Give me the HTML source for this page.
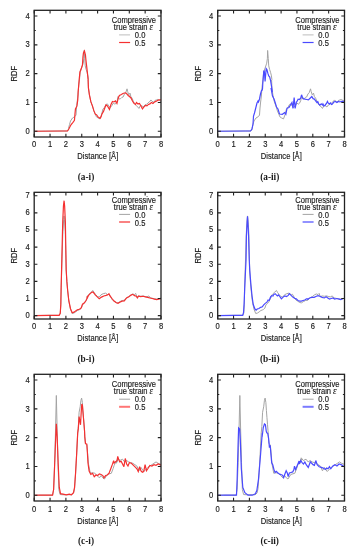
<!DOCTYPE html>
<html><head><meta charset="utf-8"><style>
html,body{margin:0;padding:0;background:#fff;width:351px;height:550px;overflow:hidden}
svg{display:block;will-change:transform}
</style></head><body>
<svg width="351" height="550" viewBox="0 0 351 550" font-family='"Liberation Sans", sans-serif' font-size="7.6" fill="#1a1a1a" stroke="#1a1a1a" stroke-width="0.14"><g><clipPath id="clip00"><rect x="34.2" y="10.3" width="126.8" height="126.7"/></clipPath><polyline clip-path="url(#clip00)" points="32.62,131.24 62,131.01 67.49,131.01 68.48,129.31 68.5,128.51 69.5,124.5 70.5,120.99 72.49,118 75,116.5 76,115 76.5,108 77,102.99 77.99,94.99 78.15,91.96 78.75,85 79.45,79.9 80.24,71.92 81.64,67.95 82.64,64.95 83.22,63.17 83.86,58.65 84.14,50.44 84.78,58.65 85.22,65.9 86.14,69.53 87.04,72.27 87.95,75.9 88.41,79.55 88.12,80.01 88.42,87.96 89.42,94.93 90.91,101.93 92.42,105.9 93.91,110.88 95.4,114.37 96.4,116.87 96.49,116.9 98,117.91 99.99,118.92 101.48,114.91 102.97,108.92 104.48,107.43 105.97,104.43 107.46,103.94 108.96,106.45 110.45,107.43 111.94,105.44 113.45,102.93 114.62,104.23 115.91,103.37 117.19,100.8 118.05,96.54 119.33,99.11 120.61,98.67 121.9,97.38 123.18,96.95 124.45,93.98 125.73,92.68 127.02,88.83 127.62,91.39 128.73,94.81 130.01,93.12 130.87,96.54 132.15,98.24 133.44,101.67 135.15,104.23 136.84,106.36 138.56,107.63 138.97,108.43 140.46,105.44 141.96,105.93 143.45,106.94 144.94,104.92 146.45,104.43 147.94,102.93 149.43,101.96 150.94,99.94 151.93,100.95 153.42,102.45 154.91,100.46 156.42,99.94 157.91,99.45 159.42,100.46 160.9,101.44" fill="none" stroke="#a4a4a4" stroke-width="1.0" stroke-linejoin="miter" stroke-miterlimit="3"/><polyline clip-path="url(#clip00)" points="32.62,131.24 62,131.01 67.49,131.01 68.97,128.82 70.97,124.82 72.97,122.34 74.46,120.36 74.97,113.88 75.46,108.9 76.96,105.9 77.76,99.91 78.15,91.96 78.75,85 79.15,79.9 79.94,71.92 81.45,67.95 82.45,64.95 82.94,56.98 83.45,52.97 84.43,50.99 85.43,54.96 85.93,59.94 86.73,66.94 87.42,72.93 88.12,80.01 88.42,87.96 89.42,94.93 90.91,101.93 92.42,105.9 93.91,110.88 95.4,114.37 96.49,114.71 98,116.9 99.99,118.4 100.98,116.9 101.97,113.91 103.48,111.43 104.97,107.43 105.97,104.95 107.46,105.93 109.46,109.44 110.96,104.43 112.45,101.47 113.94,101.96 115.45,100.95 116.94,103.45 118.43,97.46 119.43,95.48 121.42,94.47 122.91,93.49 124.42,92.97 125.42,92.77 126.91,93.98 128.41,95.97 129,95.97 131,97.95 132.49,100.95 133.98,103.42 135.48,104.43 136.48,102.45 137.97,103.94 139.46,103.42 140.97,105.93 142.46,108.92 143.95,106.94 145.45,105.44 146.94,105.93 148.43,104.43 149.94,103.94 151.43,102.45 152.93,103.42 154.42,101.96 155.91,101.44 157.42,100.46 158.91,99.94 160.9,99.94" fill="none" stroke="#f53030" stroke-width="1.2" stroke-linejoin="miter" stroke-miterlimit="3"/><path d="M34.2 137v-3.2M34.2 10.3v3.2M50.05 137v-3.2M50.05 10.3v3.2M65.9 137v-3.2M65.9 10.3v3.2M81.75 137v-3.2M81.75 10.3v3.2M97.6 137v-3.2M97.6 10.3v3.2M113.45 137v-3.2M113.45 10.3v3.2M129.3 137v-3.2M129.3 10.3v3.2M145.15 137v-3.2M145.15 10.3v3.2M161 137v-3.2M161 10.3v3.2M34.2 131.24h3.2M161 131.24h-3.2M34.2 102.45h3.2M161 102.45h-3.2M34.2 73.65h3.2M161 73.65h-3.2M34.2 44.85h3.2M161 44.85h-3.2M34.2 16.06h3.2M161 16.06h-3.2M34.2 116.84h1.6M161 116.84h-1.6M34.2 88.05h1.6M161 88.05h-1.6M34.2 59.25h1.6M161 59.25h-1.6M34.2 30.46h1.6M161 30.46h-1.6" stroke="#222" stroke-width="1.1" fill="none"/><rect x="34.2" y="10.3" width="126.8" height="126.7" fill="none" stroke="#222" stroke-width="1.3"/><text transform="translate(34.2 147.4) scale(1 1.08)" text-anchor="middle">0</text><text transform="translate(50.05 147.4) scale(1 1.08)" text-anchor="middle">1</text><text transform="translate(65.9 147.4) scale(1 1.08)" text-anchor="middle">2</text><text transform="translate(81.75 147.4) scale(1 1.08)" text-anchor="middle">3</text><text transform="translate(97.6 147.4) scale(1 1.08)" text-anchor="middle">4</text><text transform="translate(113.45 147.4) scale(1 1.08)" text-anchor="middle">5</text><text transform="translate(129.3 147.4) scale(1 1.08)" text-anchor="middle">6</text><text transform="translate(145.15 147.4) scale(1 1.08)" text-anchor="middle">7</text><text transform="translate(161 147.4) scale(1 1.08)" text-anchor="middle">8</text><text transform="translate(29.8 133.74) scale(1 1.08)" text-anchor="end">0</text><text transform="translate(29.8 104.95) scale(1 1.08)" text-anchor="end">1</text><text transform="translate(29.8 76.15) scale(1 1.08)" text-anchor="end">2</text><text transform="translate(29.8 47.35) scale(1 1.08)" text-anchor="end">3</text><text transform="translate(29.8 18.56) scale(1 1.08)" text-anchor="end">4</text><text transform="translate(97.8 159.2) scale(1 1.08)" text-anchor="middle">Distance [&#197;]</text><text transform="translate(17.1 73.65) rotate(-90) scale(1 1.08)" text-anchor="middle">RDF</text><text transform="translate(133.9 22.7) scale(1 1.08)" text-anchor="middle">Compressive</text><text transform="translate(133.5 30.2) scale(1 1.08)" text-anchor="middle">true strain <tspan font-style="italic" font-family='"Liberation Serif", serif' font-size="9">&#949;</tspan></text><text transform="translate(145.4 38.2) scale(1 1.08)" text-anchor="end">0.0</text><text transform="translate(145.4 45.7) scale(1 1.08)" text-anchor="end">0.5</text><path d="M119.1 34.9h11" stroke="#bdbdbd" stroke-width="1.0"/><path d="M119.1 42.5h11" stroke="#f53030" stroke-width="1.2"/><text x="86" y="179.9" text-anchor="middle" font-family='"Liberation Serif", serif' font-weight="bold" font-size="9.3" stroke="none">(a-i)</text></g>
<g><clipPath id="clip01"><rect x="217.7" y="10.3" width="126.8" height="126.7"/></clipPath><polyline clip-path="url(#clip01)" points="216.11,131.24 245.5,131.01 250.98,131.01 251.98,129.31 252,128.51 253,124.5 254,120.99 255.99,118 258.5,116.5 259.5,115 260,108 260.5,102.99 261.49,94.99 261.65,91.96 262.25,85 262.95,79.9 263.74,71.92 265.14,67.95 266.14,64.95 266.72,63.17 267.36,58.65 267.64,50.44 268.28,58.65 268.72,65.9 269.64,69.53 270.54,72.27 271.45,75.9 271.91,79.55 271.62,80.01 271.92,87.96 272.92,94.93 274.41,101.93 275.92,105.9 277.41,110.88 278.9,114.37 279.9,116.87 279.99,116.9 281.5,117.91 283.49,118.92 284.98,114.91 286.47,108.92 287.98,107.43 289.47,104.43 290.96,103.94 292.46,106.45 293.95,107.43 295.44,105.44 296.95,102.93 298.12,104.23 299.41,103.37 300.69,100.8 301.55,96.54 302.83,99.11 304.11,98.67 305.4,97.38 306.68,96.95 307.95,93.98 309.23,92.68 310.52,88.83 311.12,91.39 312.23,94.81 313.51,93.12 314.37,96.54 315.65,98.24 316.94,101.67 318.65,104.23 320.34,106.36 322.06,107.63 322.47,108.43 323.96,105.44 325.46,105.93 326.95,106.94 328.44,104.92 329.95,104.43 331.44,102.93 332.93,101.96 334.44,99.94 335.43,100.95 336.92,102.45 338.41,100.46 339.92,99.94 341.41,99.45 342.91,100.46 344.4,101.44" fill="none" stroke="#a4a4a4" stroke-width="1.0" stroke-linejoin="miter" stroke-miterlimit="3"/><polyline clip-path="url(#clip01)" points="216.11,131.24 244.99,131.01 250.49,131.01 252,128.99 253,124.01 253.51,116.01 254.5,113.01 255.5,109.01 256.99,102.99 258.01,101.01 258.5,102.01 259.5,98.99 260.5,94.01 261.49,90.5 262.21,90.01 262.49,89 262.82,83.18 263.73,71.38 264.19,70.45 264.63,75 265.09,81.37 265.55,75.9 266.19,68.64 266.91,69.53 267.82,73.19 268.72,75.9 269.64,76.82 270.54,80.45 271.45,85.92 272.37,92.28 271,87.99 272.49,96 274,98.99 275,102.01 276.5,107 277.99,109.01 279.5,113.99 282.38,114.28 284.63,112.55 285.86,114.28 287.06,108.23 288.96,107.43 290.47,104.95 291.96,102.45 292.96,108.43 294.16,97.46 295.14,108.43 296.44,101.96 296.84,101.67 298.12,99.11 299.41,99.51 300.69,98.24 301.55,94.81 302.4,96.95 303.26,98.67 304.97,99.11 306.68,99.51 308.38,99.94 310.09,98.24 311.8,96.54 313.09,98.67 314.37,99.11 315.65,100.8 316.94,102.5 317.79,101.67 318.65,103.8 319.92,105.07 321.2,103.8 322.48,105.07 322.96,103.94 323.96,105.93 324.96,105.44 326.45,103.42 327.45,101.44 328.44,103.42 329.44,103.94 330.44,102.93 331.44,104.43 332.44,103.94 333.93,101.96 335.43,101.44 336.92,102.45 338.41,101.44 339.92,101.96 341.41,101.44 343.9,101.44" fill="none" stroke="#4a4aff" stroke-width="1.2" stroke-linejoin="miter" stroke-miterlimit="3"/><path d="M217.7 137v-3.2M217.7 10.3v3.2M233.55 137v-3.2M233.55 10.3v3.2M249.4 137v-3.2M249.4 10.3v3.2M265.25 137v-3.2M265.25 10.3v3.2M281.1 137v-3.2M281.1 10.3v3.2M296.95 137v-3.2M296.95 10.3v3.2M312.8 137v-3.2M312.8 10.3v3.2M328.65 137v-3.2M328.65 10.3v3.2M344.5 137v-3.2M344.5 10.3v3.2M217.7 131.24h3.2M344.5 131.24h-3.2M217.7 102.45h3.2M344.5 102.45h-3.2M217.7 73.65h3.2M344.5 73.65h-3.2M217.7 44.85h3.2M344.5 44.85h-3.2M217.7 16.06h3.2M344.5 16.06h-3.2M217.7 116.84h1.6M344.5 116.84h-1.6M217.7 88.05h1.6M344.5 88.05h-1.6M217.7 59.25h1.6M344.5 59.25h-1.6M217.7 30.46h1.6M344.5 30.46h-1.6" stroke="#222" stroke-width="1.1" fill="none"/><rect x="217.7" y="10.3" width="126.8" height="126.7" fill="none" stroke="#222" stroke-width="1.3"/><text transform="translate(217.7 147.4) scale(1 1.08)" text-anchor="middle">0</text><text transform="translate(233.55 147.4) scale(1 1.08)" text-anchor="middle">1</text><text transform="translate(249.4 147.4) scale(1 1.08)" text-anchor="middle">2</text><text transform="translate(265.25 147.4) scale(1 1.08)" text-anchor="middle">3</text><text transform="translate(281.1 147.4) scale(1 1.08)" text-anchor="middle">4</text><text transform="translate(296.95 147.4) scale(1 1.08)" text-anchor="middle">5</text><text transform="translate(312.8 147.4) scale(1 1.08)" text-anchor="middle">6</text><text transform="translate(328.65 147.4) scale(1 1.08)" text-anchor="middle">7</text><text transform="translate(344.5 147.4) scale(1 1.08)" text-anchor="middle">8</text><text transform="translate(213.3 133.74) scale(1 1.08)" text-anchor="end">0</text><text transform="translate(213.3 104.95) scale(1 1.08)" text-anchor="end">1</text><text transform="translate(213.3 76.15) scale(1 1.08)" text-anchor="end">2</text><text transform="translate(213.3 47.35) scale(1 1.08)" text-anchor="end">3</text><text transform="translate(213.3 18.56) scale(1 1.08)" text-anchor="end">4</text><text transform="translate(281.3 159.2) scale(1 1.08)" text-anchor="middle">Distance [&#197;]</text><text transform="translate(200.6 73.65) rotate(-90) scale(1 1.08)" text-anchor="middle">RDF</text><text transform="translate(317.4 22.7) scale(1 1.08)" text-anchor="middle">Compressive</text><text transform="translate(317 30.2) scale(1 1.08)" text-anchor="middle">true strain <tspan font-style="italic" font-family='"Liberation Serif", serif' font-size="9">&#949;</tspan></text><text transform="translate(328.9 38.2) scale(1 1.08)" text-anchor="end">0.0</text><text transform="translate(328.9 45.7) scale(1 1.08)" text-anchor="end">0.5</text><path d="M302.6 34.9h11" stroke="#bdbdbd" stroke-width="1.0"/><path d="M302.6 42.5h11" stroke="#4a4aff" stroke-width="1.2"/><text x="269.7" y="179.9" text-anchor="middle" font-family='"Liberation Serif", serif' font-weight="bold" font-size="9.3" stroke="none">(a-ii)</text></g>
<g><clipPath id="clip10"><rect x="34.2" y="192.3" width="126.8" height="126.7"/></clipPath><polyline clip-path="url(#clip10)" points="32.62,315.58 50,315.34 59.12,315.34 60.26,313.28 60.83,304.17 61.16,287.09 62.89,231.68 63.68,219.69 64.06,215.93 64.47,219.69 65.27,231.68 66.19,270 66.87,281.38 67.66,290.51 68.8,300.75 70.51,309.29 72.22,313.5 73.94,313.06 75.65,311.91 77.34,310.54 79.06,309.86 80.2,309.29 81.34,308.16 82.48,304.74 84.19,303.27 85.9,300.75 87.61,297.34 86.71,297.1 88.99,294.26 90.71,292.55 92.97,290.49 94.11,292.55 95.82,294.82 97.54,296.54 99.25,297.1 100.96,294.82 103.23,293.68 105.51,293.11 107.79,294.82 108.93,294.26 110.64,297.1 112.36,299.94 114.05,301.09 116.33,302.58 118.05,302.8 119.76,301.66 122.04,300.53 124.28,300.25 126.56,297.73 128.84,296.6 131.12,294.77 132.82,293.99 134.53,294.55 135.67,293.4 136.81,296.83 138.52,295.92 140.81,296.26 143.09,295.92 145.36,296.6 147.07,296.83 148.78,295.92 150.49,297.97 152.2,298.2 154.49,298.88 156.75,299.1 158.46,298.88 161.32,297.97" fill="none" stroke="#a4a4a4" stroke-width="1.0" stroke-linejoin="miter" stroke-miterlimit="3"/><polyline clip-path="url(#clip10)" points="32.62,315.58 50,315.34 59.12,315.34 60.26,313.28 60.83,304.17 61.16,287.09 62.73,221.75 63.44,206 64.09,200.69 64.63,206 65.36,221.75 66.19,270 66.87,281.38 67.66,290.51 68.8,300.75 70.51,308.73 72.22,312.72 73.94,312.13 75.65,311 77.34,309.86 79.06,309.29 80.2,308.73 81.34,307.58 82.48,304.17 84.19,303.03 85.9,300.75 87.61,297.34 86.71,297.67 88.99,294.82 90.71,293.11 92.4,291.96 93.54,292.55 95.25,294.82 97.54,297.1 99.25,298.81 101.53,297.1 103.8,295.95 106.08,295.39 107.79,294.82 108.93,293.68 110.07,295.95 111.79,298.25 114.05,301.09 116.33,302.8 118.05,303.37 119.76,302.24 122.04,301.09 124.28,300.82 126.56,297.97 128.84,296.83 131.12,295.12 132.82,294.33 134.53,295.68 136.24,296.26 137.38,297.97 138.52,296.26 140.81,296.6 143.09,296.26 145.36,296.83 147.64,297.39 149.92,297.97 152.2,298.54 154.49,299.1 156.75,299.69 158.46,299.1 161.32,298.54" fill="none" stroke="#f53030" stroke-width="1.2" stroke-linejoin="miter" stroke-miterlimit="3"/><path d="M34.2 319v-3.2M34.2 192.3v3.2M50.05 319v-3.2M50.05 192.3v3.2M65.9 319v-3.2M65.9 192.3v3.2M81.75 319v-3.2M81.75 192.3v3.2M97.6 319v-3.2M97.6 192.3v3.2M113.45 319v-3.2M113.45 192.3v3.2M129.3 319v-3.2M129.3 192.3v3.2M145.15 319v-3.2M145.15 192.3v3.2M161 319v-3.2M161 192.3v3.2M34.2 315.58h3.2M161 315.58h-3.2M34.2 298.45h3.2M161 298.45h-3.2M34.2 281.33h3.2M161 281.33h-3.2M34.2 264.21h3.2M161 264.21h-3.2M34.2 247.09h3.2M161 247.09h-3.2M34.2 229.97h3.2M161 229.97h-3.2M34.2 212.85h3.2M161 212.85h-3.2M34.2 195.72h3.2M161 195.72h-3.2" stroke="#222" stroke-width="1.1" fill="none"/><rect x="34.2" y="192.3" width="126.8" height="126.7" fill="none" stroke="#222" stroke-width="1.3"/><text transform="translate(34.2 329.4) scale(1 1.08)" text-anchor="middle">0</text><text transform="translate(50.05 329.4) scale(1 1.08)" text-anchor="middle">1</text><text transform="translate(65.9 329.4) scale(1 1.08)" text-anchor="middle">2</text><text transform="translate(81.75 329.4) scale(1 1.08)" text-anchor="middle">3</text><text transform="translate(97.6 329.4) scale(1 1.08)" text-anchor="middle">4</text><text transform="translate(113.45 329.4) scale(1 1.08)" text-anchor="middle">5</text><text transform="translate(129.3 329.4) scale(1 1.08)" text-anchor="middle">6</text><text transform="translate(145.15 329.4) scale(1 1.08)" text-anchor="middle">7</text><text transform="translate(161 329.4) scale(1 1.08)" text-anchor="middle">8</text><text transform="translate(29.8 318.08) scale(1 1.08)" text-anchor="end">0</text><text transform="translate(29.8 300.95) scale(1 1.08)" text-anchor="end">1</text><text transform="translate(29.8 283.83) scale(1 1.08)" text-anchor="end">2</text><text transform="translate(29.8 266.71) scale(1 1.08)" text-anchor="end">3</text><text transform="translate(29.8 249.59) scale(1 1.08)" text-anchor="end">4</text><text transform="translate(29.8 232.47) scale(1 1.08)" text-anchor="end">5</text><text transform="translate(29.8 215.35) scale(1 1.08)" text-anchor="end">6</text><text transform="translate(29.8 198.22) scale(1 1.08)" text-anchor="end">7</text><text transform="translate(97.8 341.2) scale(1 1.08)" text-anchor="middle">Distance [&#197;]</text><text transform="translate(17.1 255.65) rotate(-90) scale(1 1.08)" text-anchor="middle">RDF</text><text transform="translate(133.9 202.9) scale(1 1.08)" text-anchor="middle">Compressive</text><text transform="translate(133.5 210.4) scale(1 1.08)" text-anchor="middle">true strain <tspan font-style="italic" font-family='"Liberation Serif", serif' font-size="9">&#949;</tspan></text><text transform="translate(145.4 218.4) scale(1 1.08)" text-anchor="end">0.0</text><text transform="translate(145.4 225.9) scale(1 1.08)" text-anchor="end">0.5</text><path d="M119.1 214.4h11" stroke="#a4a4a4" stroke-width="1.0"/><path d="M119.1 222h11" stroke="#f53030" stroke-width="1.2"/><text x="86" y="361.9" text-anchor="middle" font-family='"Liberation Serif", serif' font-weight="bold" font-size="9.3" stroke="none">(b-i)</text></g>
<g><clipPath id="clip11"><rect x="217.7" y="192.3" width="126.8" height="126.7"/></clipPath><polyline clip-path="url(#clip11)" points="216.11,315.58 233.5,315.34 242.62,315.34 243.76,313.28 244.33,304.17 244.66,287.09 246.39,231.68 247.18,219.69 247.56,215.93 247.97,219.69 248.77,231.68 249.69,270 250.37,281.38 251.16,290.51 252.3,300.75 254.01,309.29 255.72,313.5 257.44,313.06 259.15,311.91 260.84,310.54 262.56,309.86 263.7,309.29 264.84,308.16 265.98,304.74 267.69,303.27 269.4,300.75 271.11,297.34 270.21,297.1 272.49,294.26 274.21,292.55 276.47,290.49 277.61,292.55 279.32,294.82 281.04,296.54 282.75,297.1 284.46,294.82 286.73,293.68 289.01,293.11 291.29,294.82 292.43,294.26 294.14,297.1 295.86,299.94 297.55,301.09 299.83,302.58 301.55,302.8 303.26,301.66 305.54,300.53 307.78,300.25 310.06,297.73 312.34,296.6 314.62,294.77 316.32,293.99 318.03,294.55 319.17,293.4 320.31,296.83 322.02,295.92 324.31,296.26 326.59,295.92 328.86,296.6 330.57,296.83 332.28,295.92 333.99,297.97 335.7,298.2 337.99,298.88 340.25,299.1 341.96,298.88 344.82,297.97" fill="none" stroke="#a4a4a4" stroke-width="1.0" stroke-linejoin="miter" stroke-miterlimit="3"/><polyline clip-path="url(#clip11)" points="216.11,315.58 234.99,315.32 242.74,315.32 243.55,312.48 244.12,303.35 244.69,288.52 245.49,271.4 246.06,260 246.39,236.82 247.1,222.26 247.5,216.27 247.89,222.26 248.61,236.82 249.24,260 249.81,271.4 250.95,285.1 252.09,296.5 253.24,304.48 254.95,309.05 256.09,310.18 257.23,309.05 258.93,308.49 260.64,307.34 262.35,306.78 263.49,305.06 265.2,303.35 266.91,302.2 268.06,299.93 269.18,300.49 270.32,297.65 271.46,295.94 273.18,295.94 273.41,294.82 275.12,293.69 276.27,294.82 277.41,295.97 278.55,294.82 280.26,297.12 281.4,298.81 283.11,297.12 284.81,295.97 286.52,296.54 288.23,295.41 289.37,293.69 291.09,295.41 292.8,297.12 294.51,298.25 296.21,298.81 297.92,300.53 299.63,301.11 301.34,301.11 303.05,300.53 304.76,299.96 306.46,298.81 308.17,298.81 307.28,299.69 309.55,297.97 311.83,297.39 314.12,297.39 316.4,296.26 318.11,295.68 319.82,296.26 322.09,297.39 324.37,297.97 326.08,296.83 327.79,297.97 329.51,299.1 331.22,298.54 332.91,297.97 334.63,299.1 336.91,298.54 339.19,299.1 340.9,299.69 343.18,298.54" fill="none" stroke="#4a4aff" stroke-width="1.2" stroke-linejoin="miter" stroke-miterlimit="3"/><path d="M217.7 319v-3.2M217.7 192.3v3.2M233.55 319v-3.2M233.55 192.3v3.2M249.4 319v-3.2M249.4 192.3v3.2M265.25 319v-3.2M265.25 192.3v3.2M281.1 319v-3.2M281.1 192.3v3.2M296.95 319v-3.2M296.95 192.3v3.2M312.8 319v-3.2M312.8 192.3v3.2M328.65 319v-3.2M328.65 192.3v3.2M344.5 319v-3.2M344.5 192.3v3.2M217.7 315.58h3.2M344.5 315.58h-3.2M217.7 298.45h3.2M344.5 298.45h-3.2M217.7 281.33h3.2M344.5 281.33h-3.2M217.7 264.21h3.2M344.5 264.21h-3.2M217.7 247.09h3.2M344.5 247.09h-3.2M217.7 229.97h3.2M344.5 229.97h-3.2M217.7 212.85h3.2M344.5 212.85h-3.2M217.7 195.72h3.2M344.5 195.72h-3.2" stroke="#222" stroke-width="1.1" fill="none"/><rect x="217.7" y="192.3" width="126.8" height="126.7" fill="none" stroke="#222" stroke-width="1.3"/><text transform="translate(217.7 329.4) scale(1 1.08)" text-anchor="middle">0</text><text transform="translate(233.55 329.4) scale(1 1.08)" text-anchor="middle">1</text><text transform="translate(249.4 329.4) scale(1 1.08)" text-anchor="middle">2</text><text transform="translate(265.25 329.4) scale(1 1.08)" text-anchor="middle">3</text><text transform="translate(281.1 329.4) scale(1 1.08)" text-anchor="middle">4</text><text transform="translate(296.95 329.4) scale(1 1.08)" text-anchor="middle">5</text><text transform="translate(312.8 329.4) scale(1 1.08)" text-anchor="middle">6</text><text transform="translate(328.65 329.4) scale(1 1.08)" text-anchor="middle">7</text><text transform="translate(344.5 329.4) scale(1 1.08)" text-anchor="middle">8</text><text transform="translate(213.3 318.08) scale(1 1.08)" text-anchor="end">0</text><text transform="translate(213.3 300.95) scale(1 1.08)" text-anchor="end">1</text><text transform="translate(213.3 283.83) scale(1 1.08)" text-anchor="end">2</text><text transform="translate(213.3 266.71) scale(1 1.08)" text-anchor="end">3</text><text transform="translate(213.3 249.59) scale(1 1.08)" text-anchor="end">4</text><text transform="translate(213.3 232.47) scale(1 1.08)" text-anchor="end">5</text><text transform="translate(213.3 215.35) scale(1 1.08)" text-anchor="end">6</text><text transform="translate(213.3 198.22) scale(1 1.08)" text-anchor="end">7</text><text transform="translate(281.3 341.2) scale(1 1.08)" text-anchor="middle">Distance [&#197;]</text><text transform="translate(200.6 255.65) rotate(-90) scale(1 1.08)" text-anchor="middle">RDF</text><text transform="translate(317.4 202.9) scale(1 1.08)" text-anchor="middle">Compressive</text><text transform="translate(317 210.4) scale(1 1.08)" text-anchor="middle">true strain <tspan font-style="italic" font-family='"Liberation Serif", serif' font-size="9">&#949;</tspan></text><text transform="translate(328.9 218.4) scale(1 1.08)" text-anchor="end">0.0</text><text transform="translate(328.9 225.9) scale(1 1.08)" text-anchor="end">0.5</text><path d="M302.6 214.4h11" stroke="#a4a4a4" stroke-width="1.0"/><path d="M302.6 222h11" stroke="#4a4aff" stroke-width="1.2"/><text x="269.7" y="361.9" text-anchor="middle" font-family='"Liberation Serif", serif' font-weight="bold" font-size="9.3" stroke="none">(b-ii)</text></g>
<g><clipPath id="clip20"><rect x="34.2" y="374.3" width="126.8" height="126.7"/></clipPath><polyline clip-path="url(#clip20)" points="32.62,495.24 40,495.18 52.57,495.18 53.62,489.54 54.66,462.36 55.5,431 56.34,395.46 57.17,431 58.01,462.36 58.85,489.54 60.1,494.55 63.03,494.78 66.19,494.78 69.32,494.78 71.42,494.78 73.51,493.11 74.55,488.5 75.6,472.81 76.65,454.01 77.69,433.1 78.33,426.45 79.09,412.28 80.18,406.81 80.94,400.27 81.61,398.09 82.37,402.46 82.91,410.64 83.46,417.72 84,424.26 84.54,430.83 84.79,436.84 85.47,443.67 86.84,444.82 87.76,455.07 88.55,464.17 90.26,473.27 92.53,472.72 94.81,473.27 97.09,475.54 99.38,477.85 101.09,475.54 102.8,477.85 104.49,478.97 107.35,474.42 111.34,473.27 113.05,468.72 114.19,465.29 116.46,460.74 118.17,459.05 116.37,463.28 117.73,457.81 119.79,460.54 122.52,459.19 124.58,461.92 126.62,460.54 128.68,461.92 130.73,462.62 132.77,463.28 134.83,464.66 136.88,466.01 138.94,470.82 140.98,467.4 143.72,471.51 145.77,469.44 147.81,467.4 149.87,466.01 151.92,464.66 153.98,463.28 156.02,461.92 158.08,463.28 161.49,464.66" fill="none" stroke="#a4a4a4" stroke-width="1.0" stroke-linejoin="miter" stroke-miterlimit="3"/><polyline clip-path="url(#clip20)" points="32.62,495.24 40,495.18 52.57,495.18 53.62,489.54 54.66,464.46 55.71,437.28 56.34,423.68 57.17,437.28 58.21,464.46 59.27,487.47 60.53,493.71 63.03,494.15 66.19,494.78 69.32,494.15 71.42,494.78 73.51,492.68 74.55,487.47 75.6,472.81 76.65,454.01 77.69,433.1 78.33,428.64 79.09,416.63 79.85,421.01 80.51,424.81 81.27,411.19 81.81,404.1 82.37,405.17 82.91,411.19 83.46,417.72 84,424.26 84.54,430.83 84.79,436.84 85.47,443.67 86.84,444.24 87.41,452.77 87.98,463.02 89.12,471 90.83,474.42 92.53,473.27 94.24,476.7 95.95,475 97.66,475.54 99.38,473.85 101.09,474.42 102.8,475.54 103.92,477.85 105.64,475.54 107.35,475 109.06,473.27 110.77,468.72 112.48,464.17 113.62,460.74 114.19,463.02 115.32,461.9 117.03,460.74 117.73,456.42 118.82,459.85 119.79,461.92 121.15,461.23 122.52,463.97 123.9,466.7 125.26,458.5 126.62,463.97 127.98,466.01 129.36,462.62 131.41,463.28 133.47,465.35 135.51,467.4 136.88,468.78 138.26,471.51 139.62,466.7 140.98,470.82 142.34,472.2 143.72,471.51 145.09,464.66 146.45,470.82 147.81,468.78 149.87,465.35 151.92,466.01 153.98,464.66 156.02,465.35 158.08,463.97 161.49,465.35" fill="none" stroke="#f53030" stroke-width="1.2" stroke-linejoin="miter" stroke-miterlimit="3"/><path d="M34.2 501v-3.2M34.2 374.3v3.2M50.05 501v-3.2M50.05 374.3v3.2M65.9 501v-3.2M65.9 374.3v3.2M81.75 501v-3.2M81.75 374.3v3.2M97.6 501v-3.2M97.6 374.3v3.2M113.45 501v-3.2M113.45 374.3v3.2M129.3 501v-3.2M129.3 374.3v3.2M145.15 501v-3.2M145.15 374.3v3.2M161 501v-3.2M161 374.3v3.2M34.2 495.24h3.2M161 495.24h-3.2M34.2 466.45h3.2M161 466.45h-3.2M34.2 437.65h3.2M161 437.65h-3.2M34.2 408.85h3.2M161 408.85h-3.2M34.2 380.06h3.2M161 380.06h-3.2M34.2 480.84h1.6M161 480.84h-1.6M34.2 452.05h1.6M161 452.05h-1.6M34.2 423.25h1.6M161 423.25h-1.6M34.2 394.46h1.6M161 394.46h-1.6" stroke="#222" stroke-width="1.1" fill="none"/><rect x="34.2" y="374.3" width="126.8" height="126.7" fill="none" stroke="#222" stroke-width="1.3"/><text transform="translate(34.2 511.9) scale(1 1.08)" text-anchor="middle">0</text><text transform="translate(50.05 511.9) scale(1 1.08)" text-anchor="middle">1</text><text transform="translate(65.9 511.9) scale(1 1.08)" text-anchor="middle">2</text><text transform="translate(81.75 511.9) scale(1 1.08)" text-anchor="middle">3</text><text transform="translate(97.6 511.9) scale(1 1.08)" text-anchor="middle">4</text><text transform="translate(113.45 511.9) scale(1 1.08)" text-anchor="middle">5</text><text transform="translate(129.3 511.9) scale(1 1.08)" text-anchor="middle">6</text><text transform="translate(145.15 511.9) scale(1 1.08)" text-anchor="middle">7</text><text transform="translate(161 511.9) scale(1 1.08)" text-anchor="middle">8</text><text transform="translate(29.8 498.14) scale(1 1.08)" text-anchor="end">0</text><text transform="translate(29.8 469.35) scale(1 1.08)" text-anchor="end">1</text><text transform="translate(29.8 440.55) scale(1 1.08)" text-anchor="end">2</text><text transform="translate(29.8 411.75) scale(1 1.08)" text-anchor="end">3</text><text transform="translate(29.8 382.96) scale(1 1.08)" text-anchor="end">4</text><text transform="translate(97.8 523.7) scale(1 1.08)" text-anchor="middle">Distance [&#197;]</text><text transform="translate(17.1 437.65) rotate(-90) scale(1 1.08)" text-anchor="middle">RDF</text><text transform="translate(133.9 386.9) scale(1 1.08)" text-anchor="middle">Compressive</text><text transform="translate(133.5 394.4) scale(1 1.08)" text-anchor="middle">true strain <tspan font-style="italic" font-family='"Liberation Serif", serif' font-size="9">&#949;</tspan></text><text transform="translate(145.4 402.4) scale(1 1.08)" text-anchor="end">0.0</text><text transform="translate(145.4 409.9) scale(1 1.08)" text-anchor="end">0.5</text><path d="M119.1 399.2h11" stroke="#a4a4a4" stroke-width="1.0"/><path d="M119.1 406.8h11" stroke="#ff7676" stroke-width="2.0"/><text x="86" y="543.9" text-anchor="middle" font-family='"Liberation Serif", serif' font-weight="bold" font-size="9.3" stroke="none">(c-i)</text></g>
<g><clipPath id="clip21"><rect x="217.7" y="374.3" width="126.8" height="126.7"/></clipPath><polyline clip-path="url(#clip21)" points="216.11,495.24 223.5,495.18 236.07,495.18 237.12,489.54 238.16,462.36 239,431 239.84,395.46 240.67,431 241.51,462.36 242.35,489.54 243.6,494.55 246.53,494.78 249.69,494.78 252.82,494.78 254.92,494.78 257.01,493.11 258.05,488.5 259.1,472.81 260.15,454.01 261.19,433.1 261.83,426.45 262.59,412.28 263.68,406.81 264.44,400.27 265.11,398.09 265.87,402.46 266.41,410.64 266.96,417.72 267.5,424.26 268.04,430.83 268.29,436.84 268.97,443.67 270.34,444.82 271.26,455.07 272.05,464.17 273.76,473.27 276.03,472.72 278.31,473.27 280.59,475.54 282.88,477.85 284.59,475.54 286.3,477.85 287.99,478.97 290.85,474.42 294.84,473.27 296.55,468.72 297.69,465.29 299.96,460.74 301.67,459.05 299.87,463.28 301.23,457.81 303.29,460.54 306.02,459.19 308.08,461.92 310.12,460.54 312.18,461.92 314.23,462.62 316.27,463.28 318.33,464.66 320.38,466.01 322.44,470.82 324.48,467.4 327.22,471.51 329.27,469.44 331.31,467.4 333.37,466.01 335.42,464.66 337.48,463.28 339.52,461.92 341.58,463.28 344.99,464.66" fill="none" stroke="#a4a4a4" stroke-width="1.0" stroke-linejoin="miter" stroke-miterlimit="3"/><polyline clip-path="url(#clip21)" points="216.11,495.24 225.01,495.18 236.51,495.18 237.15,479.09 237.99,447.73 238.61,427.86 239.65,428.9 240.29,439.38 241.33,468.63 242.81,487.47 244.9,492.68 248.04,495.18 252.22,495.18 255.36,493.71 256.83,490.6 258.51,479.09 260.61,454.01 262.27,433.1 262.1,436.99 263.28,427.54 264.46,424 265.41,424.58 266.23,431.08 266.82,432.87 267.77,433.45 268.59,438.17 269.42,447.64 270.13,445.28 270.21,445.68 270.89,453.66 271.69,462.79 272.83,465.06 273.97,469.61 275.11,472.46 276.25,471.34 277.96,473.04 279.66,474.19 281.37,474.74 282.51,475.31 283.65,477.59 284.79,474.19 286.16,470.76 287.3,473.04 288.22,476.47 289.36,473.04 291.05,472.46 292.77,471.89 293.91,469.61 294.48,466.22 295.62,469.61 296.76,466.76 297.9,463.91 299.04,461.09 299.38,463.97 300.74,460.54 302.1,462.62 303.46,463.97 304.84,461.92 306.21,464.66 308.25,467.4 310.31,461.92 311.67,463.28 313.04,464.66 314.42,465.35 315.78,460.54 317.14,464.66 319.2,466.7 321.25,467.4 323.29,468.09 325.35,469.44 326.72,468.09 328.08,468.78 329.46,466.7 330.82,468.78 332.87,466.01 334.93,464.66 336.97,466.01 339.03,463.97 341.08,464.66 344.5,466.7" fill="none" stroke="#4a4aff" stroke-width="1.2" stroke-linejoin="miter" stroke-miterlimit="3"/><path d="M217.7 501v-3.2M217.7 374.3v3.2M233.55 501v-3.2M233.55 374.3v3.2M249.4 501v-3.2M249.4 374.3v3.2M265.25 501v-3.2M265.25 374.3v3.2M281.1 501v-3.2M281.1 374.3v3.2M296.95 501v-3.2M296.95 374.3v3.2M312.8 501v-3.2M312.8 374.3v3.2M328.65 501v-3.2M328.65 374.3v3.2M344.5 501v-3.2M344.5 374.3v3.2M217.7 495.24h3.2M344.5 495.24h-3.2M217.7 466.45h3.2M344.5 466.45h-3.2M217.7 437.65h3.2M344.5 437.65h-3.2M217.7 408.85h3.2M344.5 408.85h-3.2M217.7 380.06h3.2M344.5 380.06h-3.2M217.7 480.84h1.6M344.5 480.84h-1.6M217.7 452.05h1.6M344.5 452.05h-1.6M217.7 423.25h1.6M344.5 423.25h-1.6M217.7 394.46h1.6M344.5 394.46h-1.6" stroke="#222" stroke-width="1.1" fill="none"/><rect x="217.7" y="374.3" width="126.8" height="126.7" fill="none" stroke="#222" stroke-width="1.3"/><text transform="translate(217.7 511.9) scale(1 1.08)" text-anchor="middle">0</text><text transform="translate(233.55 511.9) scale(1 1.08)" text-anchor="middle">1</text><text transform="translate(249.4 511.9) scale(1 1.08)" text-anchor="middle">2</text><text transform="translate(265.25 511.9) scale(1 1.08)" text-anchor="middle">3</text><text transform="translate(281.1 511.9) scale(1 1.08)" text-anchor="middle">4</text><text transform="translate(296.95 511.9) scale(1 1.08)" text-anchor="middle">5</text><text transform="translate(312.8 511.9) scale(1 1.08)" text-anchor="middle">6</text><text transform="translate(328.65 511.9) scale(1 1.08)" text-anchor="middle">7</text><text transform="translate(344.5 511.9) scale(1 1.08)" text-anchor="middle">8</text><text transform="translate(213.3 498.14) scale(1 1.08)" text-anchor="end">0</text><text transform="translate(213.3 469.35) scale(1 1.08)" text-anchor="end">1</text><text transform="translate(213.3 440.55) scale(1 1.08)" text-anchor="end">2</text><text transform="translate(213.3 411.75) scale(1 1.08)" text-anchor="end">3</text><text transform="translate(213.3 382.96) scale(1 1.08)" text-anchor="end">4</text><text transform="translate(281.3 523.7) scale(1 1.08)" text-anchor="middle">Distance [&#197;]</text><text transform="translate(200.6 437.65) rotate(-90) scale(1 1.08)" text-anchor="middle">RDF</text><text transform="translate(317.4 386.9) scale(1 1.08)" text-anchor="middle">Compressive</text><text transform="translate(317 394.4) scale(1 1.08)" text-anchor="middle">true strain <tspan font-style="italic" font-family='"Liberation Serif", serif' font-size="9">&#949;</tspan></text><text transform="translate(328.9 402.4) scale(1 1.08)" text-anchor="end">0.0</text><text transform="translate(328.9 409.9) scale(1 1.08)" text-anchor="end">0.5</text><path d="M302.6 399.2h11" stroke="#a4a4a4" stroke-width="1.0"/><path d="M302.6 406.8h11" stroke="#7a7aff" stroke-width="2.0"/><text x="269.7" y="543.9" text-anchor="middle" font-family='"Liberation Serif", serif' font-weight="bold" font-size="9.3" stroke="none">(c-ii)</text></g></svg>
</body></html>
